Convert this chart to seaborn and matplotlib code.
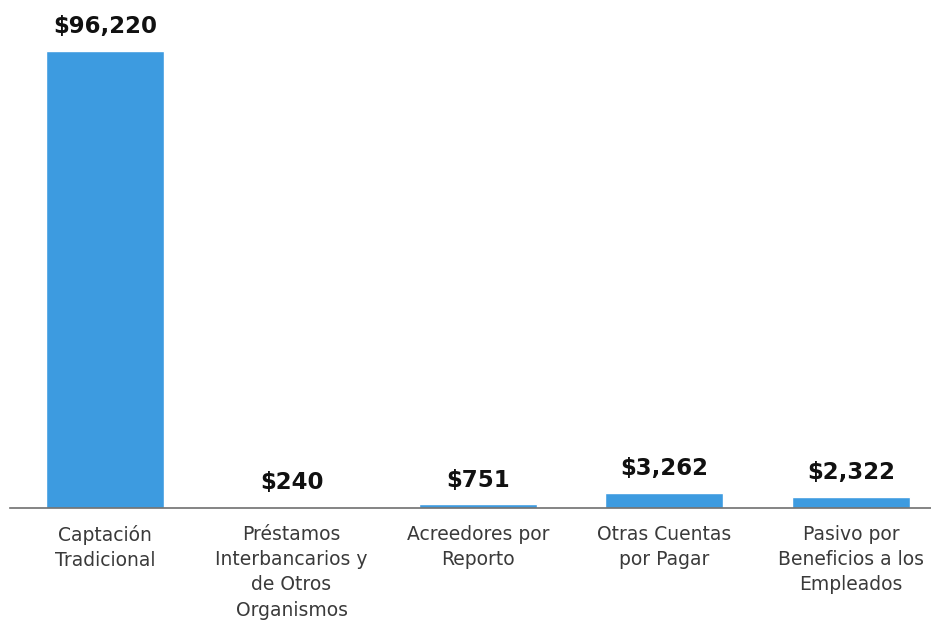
import matplotlib
matplotlib.use("Agg")
import matplotlib.pyplot as plt
import seaborn as sns
import pandas as pd

categories = [
    "Captación\nTradicional",
    "Préstamos\nInterbancarios y\nde Otros\nOrganismos",
    "Acreedores por\nReporto",
    "Otras Cuentas\npor Pagar",
    "Pasivo por\nBeneficios a los\nEmpleados",
]
values = [96220, 240, 751, 3262, 2322]
value_labels = [f"${v:,.0f}" for v in values]

sns.set_theme(style="white")
plt.rcParams["font.family"] = ["DejaVu Sans"]

fig = plt.figure(figsize=(9.31, 6.22), dpi=100)
ax = fig.add_axes([10 / 931, 114 / 622, 1 - 10 / 931, 508 / 622])

df = pd.DataFrame({"cat": categories, "val": values})
sns.barplot(data=df, x="cat", y="val", color="#3d9be0", saturation=1,
            width=0.633, ax=ax)

ax.bar_label(ax.containers[0], labels=value_labels, padding=9,
             fontsize=16.5, fontweight="bold", color="#111111")

ax.set_ylim(0, 96220 * 508 / 457)
ax.set_xlim(-0.51, 4.43)
ax.set_xlabel("")
ax.set_ylabel("")
ax.set_yticks([])
for s in ["top", "right", "left"]:
    ax.spines[s].set_visible(False)
ax.spines["bottom"].set_color("#707070")
ax.spines["bottom"].set_linewidth(1.2)
ax.tick_params(axis="x", length=0, pad=12, labelsize=13.5, colors="#3a3a3a")
for t in ax.get_xticklabels():
    t.set_linespacing(1.42)

fig.savefig("out.png", dpi=100, facecolor="white")
